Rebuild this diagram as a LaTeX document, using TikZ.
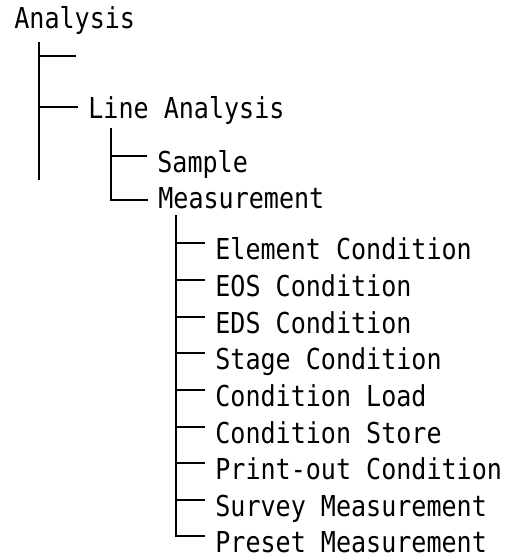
\documentclass[tikz,border=0pt]{standalone}
\usepackage{fontspec}
\newfontfamily\treefont[FakeStretch=0.87]{DejaVu Sans Mono}

\begin{document}
\begin{tikzpicture}[x=0.5pt,y=-0.5pt]
	\tikzset{item/.style = {anchor=base west, inner xsep=5pt, inner ysep=0pt,
			font=\fontsize{14.4}{16}\treefont, text height=10.5pt, text depth=2pt}}
	\tikzset{branch/.style = {line width=1pt}}
	\useasboundingbox (0,0) rectangle (506,560);
	% items
	\node[item] (ana) at (4,29) {Analysis};
	\coordinate (blank) at (76,56);
	\coordinate (end1) at (39,180);
	\node[item] (line) at (78,119) {Line Analysis};
	\node[item] (samp) at (147,173) {Sample};
	\node[item] (meas) at (148,209) {Measurement};
	\foreach \txt [count=\i] in {Element Condition, EOS Condition, EDS Condition,
			Stage Condition, Condition Load, Condition Store, Print-out Condition,
			Survey Measurement, Preset Measurement}
		\node[item] (m\i) at (205,{260+36.6*(\i-1)}) {\txt};
	%edges
	\draw[branch] ([xshift=17.5pt,yshift=-4.5pt]ana.south west) -- (end1);
	\draw[branch] (blank) -- ++(-18.5pt,0);
	\draw[branch] ([yshift=1.75pt]line.west) -- ++(-19.5pt,0);
	\draw[branch] ([xshift=16.5pt,yshift=-2.5pt]line.south west) |- (meas.west);
	\draw[branch] ([yshift=4pt]samp.west) -- ++(-18pt,0);
	\draw[branch] ([xshift=13.75pt,yshift=-1pt]meas.south west) |- ([yshift=4pt]m9.west);
	\foreach \i in {1,...,8}
		\draw[branch] ([yshift=4pt]m\i.west) -- ++(-14.75pt,0);
\end{tikzpicture}
\end{document}
